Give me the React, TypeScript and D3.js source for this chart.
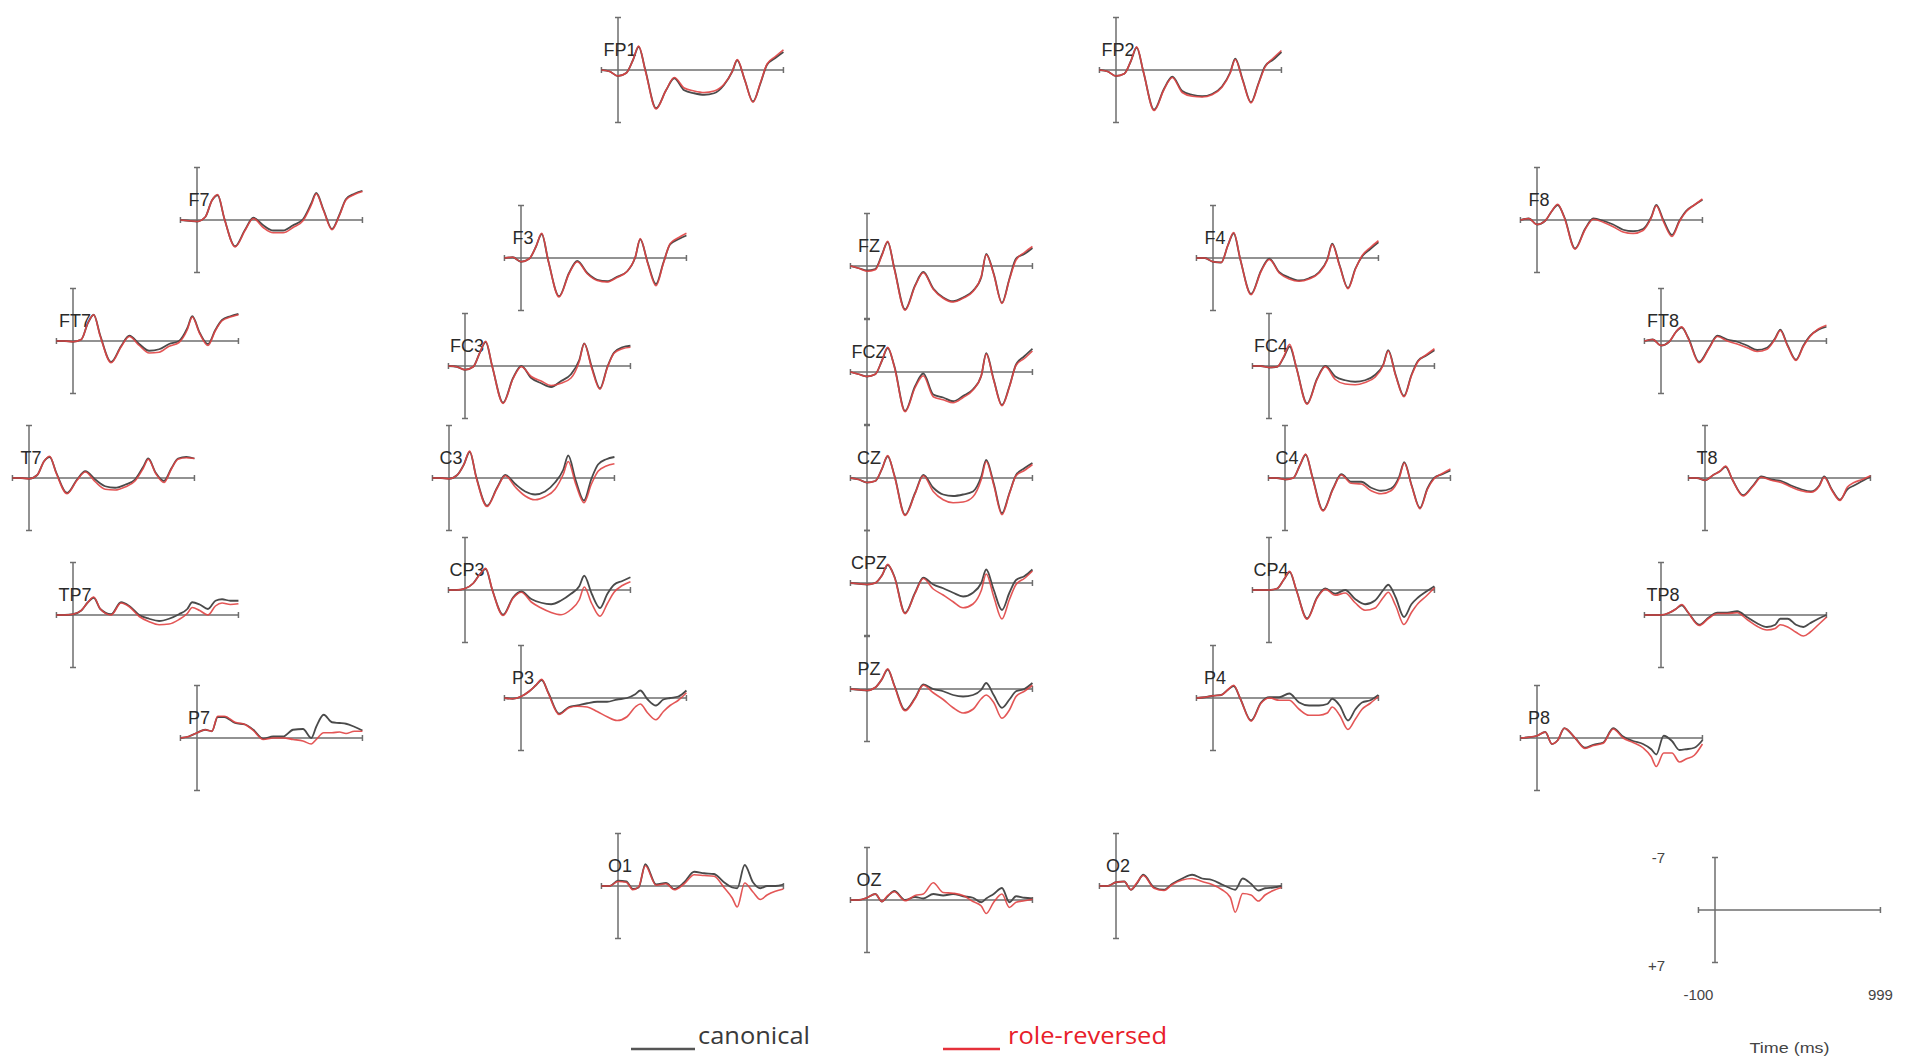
import React from "react";
import * as d3 from "d3";

// Sample times (ms)
const T = [-100, -50, 0, 50, 90, 125, 165, 230, 290, 340, 400, 460, 520, 580, 640, 690, 720, 765, 815, 860, 900, 950, 999];

// Amplitudes (µV) — canonical (can) and role-reversed (rr)
const FP1_can = [0, 0.2, 0.8, 0.4, -1.3, -3.1, 0, 5.1, 2.7, 1.1, 2.7, 3.1, 3.3, 3.1, 2.0, 0.2, -1.3, 1.3, 4.2, 1.8, -0.7, -1.6, -2.4];
const FP1_rr = [0, 0.2, 0.8, 0.4, -1.3, -3.2, 0.1, 5.2, 2.7, 1.0, 2.4, 2.8, 3.0, 2.8, 1.9, 0.2, -1.4, 1.3, 4.3, 1.7, -0.8, -1.8, -2.7];
const FP2_can = [0, 0.2, 0.8, 0.5, -1.2, -3.0, 0.2, 5.3, 2.5, 0.9, 2.8, 3.3, 3.5, 3.2, 2.2, 0.3, -1.5, 1.3, 4.3, 1.8, -0.5, -1.4, -2.4];
const FP2_rr = [0, 0.2, 0.8, 0.5, -1.2, -3.1, 0.2, 5.4, 2.6, 1.0, 3.0, 3.5, 3.6, 3.3, 2.3, 0.4, -1.4, 1.4, 4.4, 1.9, -0.4, -1.6, -2.6];
const F7_can = [0, 0.1, 0.2, -0.4, -2.6, -3.3, -0.2, 3.5, 1.3, -0.3, 0.7, 1.4, 1.4, 0.7, -0.1, -2.2, -3.6, -1.3, 1.2, -0.7, -2.8, -3.5, -3.9];
const F7_rr = [0, 0.1, 0.2, -0.4, -2.6, -3.4, -0.2, 3.6, 1.4, -0.2, 1.0, 1.7, 1.7, 1.0, 0.1, -2.0, -3.5, -1.2, 1.3, -0.6, -2.7, -3.4, -3.8];
const F3_can = [0, -0.1, 0.5, 0.1, -1.5, -3.2, 0.4, 5.1, 2.0, 0.4, 2.0, 2.9, 3.1, 2.5, 1.8, -0.1, -2.5, 0.6, 3.5, 0.6, -1.8, -2.5, -3.0];
const F3_rr = [0, -0.1, 0.5, 0.1, -1.5, -3.3, 0.4, 5.2, 2.1, 0.5, 2.1, 3.0, 3.2, 2.6, 1.8, -0.1, -2.6, 0.7, 3.7, 0.7, -1.9, -2.7, -3.3];
const FZ_can = [0, 0.3, 0.6, 0.4, -1.5, -3.2, 0.3, 5.8, 2.6, 0.8, 3.0, 4.2, 4.7, 4.2, 3.3, 1.5, -1.6, 1.0, 4.9, 1.7, -1.0, -1.6, -2.4];
const FZ_rr = [0, 0.3, 0.7, 0.5, -1.4, -3.3, 0.4, 5.9, 2.7, 0.9, 3.1, 4.3, 4.8, 4.3, 3.4, 1.4, -1.5, 1.1, 5.0, 1.8, -0.8, -1.8, -2.6];
const F4_can = [0, 0, 0.5, 0.6, -1.7, -3.3, 0.2, 4.8, 1.7, 0.1, 1.9, 2.6, 3.0, 2.7, 1.9, 0.2, -1.9, 1.0, 4.0, 1.4, -0.2, -1.2, -2.1];
const F4_rr = [0, 0, 0.5, 0.6, -1.7, -3.4, 0.2, 4.9, 1.8, 0.2, 2.0, 2.8, 3.1, 2.8, 2.0, 0.3, -1.8, 1.1, 4.1, 1.5, -0.3, -1.4, -2.3];
const F8_can = [0, -0.2, 0.6, 0.1, -1.2, -2.0, -0.4, 3.8, 1.2, -0.2, 0.1, 0.6, 1.3, 1.5, 1.2, -0.4, -2.0, 0.1, 2.0, 0.1, -1.2, -2.0, -2.7];
const F8_rr = [0, -0.2, 0.6, 0.1, -1.2, -2.1, -0.3, 3.9, 1.3, -0.1, 0.3, 0.9, 1.6, 1.8, 1.4, -0.3, -1.9, 0.3, 2.2, 0.2, -1.1, -2.0, -2.8];
const FT7_can = [0, 0, 0.1, -0.2, -2.4, -3.5, -0.7, 2.8, 0.7, -0.7, 0.4, 1.3, 1.1, 0.4, 0, -1.7, -3.3, -1.1, 0.4, -1.5, -2.8, -3.3, -3.6];
const FT7_rr = [0, 0, 0.1, -0.2, -2.4, -3.5, -0.6, 2.9, 0.8, -0.6, 0.6, 1.6, 1.5, 0.7, 0.2, -1.5, -3.2, -1.0, 0.6, -1.4, -2.7, -3.2, -3.5];
const FC3_can = [0, 0.1, 0.5, 0.1, -1.8, -3.2, 0.1, 4.9, 1.6, 0, 1.6, 2.3, 2.8, 2.0, 1.1, -0.8, -3.0, 0.1, 3.0, 0.1, -1.8, -2.5, -2.7];
const FC3_rr = [0, 0.1, 0.5, 0.1, -1.8, -3.3, 0.1, 5.0, 1.7, 0.1, 1.4, 2.0, 2.6, 2.3, 1.6, -0.6, -3.0, 0.3, 3.1, 0.2, -1.7, -2.3, -2.5];
const FCZ_can = [0, 0.3, 0.6, 0.3, -1.5, -3.2, -0.8, 5.2, 1.9, 0.2, 3.0, 3.4, 3.9, 3.2, 2.3, 0.5, -2.5, 1.0, 4.4, 1.9, -1.0, -2.1, -3.1];
const FCZ_rr = [0, 0.3, 0.6, 0.3, -1.5, -3.3, -0.7, 5.3, 2.1, 0.5, 3.3, 3.7, 4.1, 3.4, 2.4, 0.5, -2.4, 1.1, 4.5, 2.0, -0.9, -1.8, -2.8];
const FC4_can = [0, 0, 0.2, 0.1, -1.2, -2.6, 0.2, 5.0, 1.7, 0, 1.4, 1.9, 2.1, 1.9, 1.2, -0.2, -2.1, 1.2, 4.0, 1.2, -0.7, -1.4, -2.1];
const FC4_rr = [0, 0, 0.2, 0.1, -1.3, -2.9, 0.2, 5.1, 1.8, 0.1, 1.8, 2.4, 2.5, 2.2, 1.5, -0.1, -2.0, 1.3, 4.1, 1.3, -0.6, -1.5, -2.3];
const FT8_can = [0, -0.2, 0.6, 0.1, -1.2, -1.8, -0.4, 2.8, 0.9, -0.7, -0.2, 0.1, 0.6, 1.2, 0.9, -0.4, -1.5, 0.6, 2.5, 0.6, -0.7, -1.5, -1.9];
const FT8_rr = [0, -0.2, 0.6, 0.1, -1.2, -1.9, -0.3, 2.9, 1.0, -0.6, 0, 0.4, 0.9, 1.4, 1.1, -0.3, -1.4, 0.7, 2.6, 0.7, -0.6, -1.6, -2.1];
const T7_can = [0, 0, 0.1, -0.4, -2.2, -2.8, -0.7, 2.0, 0.2, -0.9, 0.2, 1.1, 1.3, 0.9, 0.2, -1.5, -2.6, -0.7, 0.4, -1.3, -2.6, -2.8, -2.6];
const T7_rr = [0, 0, 0.1, -0.4, -2.2, -2.9, -0.6, 2.1, 0.3, -0.8, 0.5, 1.5, 1.6, 1.2, 0.4, -1.3, -2.5, -0.6, 0.6, -1.2, -2.5, -2.7, -2.6];
const C3_can = [0, 0, 0.1, -0.4, -1.8, -3.5, -0.1, 3.7, 1.3, -0.4, 0.8, 1.8, 2.2, 1.8, 0.6, -1.1, -3.0, 0.3, 3.0, 0.1, -1.8, -2.5, -2.8];
const C3_rr = [0, 0, 0.1, -0.4, -1.8, -3.6, 0, 3.8, 1.4, -0.3, 1.2, 2.4, 2.9, 2.5, 1.5, -0.5, -2.2, 0.8, 3.3, 0.8, -0.9, -1.6, -1.9];
const CZ_can = [0, 0.2, 0.6, 0.4, -1.2, -2.9, -0.4, 4.9, 2.0, -0.4, 1.3, 2.2, 2.4, 2.2, 1.8, -0.2, -2.4, 0.7, 4.7, 2.0, -0.4, -1.3, -2.0];
const CZ_rr = [0, 0.2, 0.6, 0.4, -1.2, -3.0, -0.3, 5.0, 2.1, -0.3, 1.8, 2.9, 3.3, 3.2, 2.5, 0.2, -2.2, 0.9, 4.9, 2.1, -0.3, -1.0, -1.8];
const C4_can = [0, 0, 0.2, 0, -1.7, -3.1, -0.2, 4.3, 1.4, -0.5, 0.5, 0.5, 1.3, 1.7, 1.4, -0.2, -2.1, 1.0, 4.0, 1.4, 0, -0.5, -1.0];
const C4_rr = [0, 0, 0.2, 0, -1.7, -3.2, -0.1, 4.4, 1.5, -0.4, 0.7, 0.8, 1.7, 2.1, 1.7, 0, -2.0, 1.1, 4.1, 1.5, 0.1, -0.6, -1.2];
const T8_can = [0, 0, 0.3, -0.4, -0.9, -1.5, 0.2, 2.3, 1.0, -0.2, 0.2, 0.4, 1.0, 1.5, 1.8, 1.0, -0.2, 1.5, 2.9, 1.5, 1.0, 0.4, -0.2];
const T8_rr = [0, 0, 0.3, -0.4, -0.9, -1.6, 0.2, 2.4, 1.1, -0.1, 0.3, 0.6, 1.2, 1.7, 1.9, 1.1, -0.1, 1.6, 3.0, 1.2, 0.6, 0.2, -0.3];
const TP7_can = [0, 0, -0.1, -0.6, -1.7, -2.3, -0.8, -0.1, -1.7, -1.2, 0, 0.5, 0.8, 0.5, -0.1, -0.8, -1.7, -1.4, -0.8, -1.9, -2.1, -1.9, -1.9];
const TP7_rr = [0, 0, -0.1, -0.6, -1.7, -2.4, -0.8, 0, -1.6, -1.1, 0.2, 0.9, 1.3, 1.2, 0.6, -0.2, -1.0, -0.6, 0, -1.2, -1.6, -1.4, -1.5];
const CP3_can = [0, 0, -0.2, -0.9, -2.1, -2.8, 0, 3.3, 1.0, 0.2, 1.2, 1.7, 1.9, 1.4, 0.5, -0.5, -1.9, 0.5, 2.4, 0.5, -0.7, -1.2, -1.7];
const CP3_rr = [0, 0, -0.2, -0.9, -2.1, -2.9, 0, 3.4, 1.1, 0.3, 1.6, 2.4, 3.0, 3.3, 2.6, 1.3, -0.4, 1.8, 3.5, 1.8, 0.3, -0.6, -1.1];
const CPZ_can = [0, 0.1, 0.2, 0, -1.0, -2.4, -0.9, 4.0, 1.3, -0.7, 0.2, 0.7, 1.3, 1.8, 1.3, 0, -1.8, 0.9, 3.6, 1.3, -0.4, -0.9, -1.8];
const CPZ_rr = [0, 0.1, 0.2, 0, -1.0, -2.5, -0.8, 4.1, 1.4, -0.6, 0.8, 1.6, 2.5, 3.3, 2.8, 1.0, -1.2, 1.8, 4.8, 2.2, 0.2, -0.6, -1.6];
const CP4_can = [0, 0, 0, -0.2, -1.4, -2.4, 0, 3.8, 1.0, -0.2, 0.5, 0, 1.2, 1.9, 1.4, 0, -0.7, 1.0, 3.6, 1.9, 1.0, 0.2, -0.5];
const CP4_rr = [0, 0, 0, -0.2, -1.4, -2.5, 0, 3.9, 1.1, -0.1, 0.7, 0.4, 1.7, 2.7, 2.4, 1.0, 0.3, 2.1, 4.6, 3.0, 1.8, 0.8, -0.3];
const TP8_can = [0, 0, 0, -0.3, -0.8, -1.3, -0.3, 1.3, 0.3, -0.3, -0.3, -0.5, 0.3, 1.1, 1.6, 1.3, 0.5, 0.5, 1.3, 1.6, 1.1, 0.5, 0];
const TP8_rr = [0, 0, 0, -0.3, -0.8, -1.4, -0.3, 1.4, 0.4, -0.2, -0.2, -0.3, 0.6, 1.5, 2.0, 1.8, 1.3, 1.6, 2.3, 2.8, 2.3, 1.3, 0.3];
const P7_can = [0, -0.2, -0.7, -1.1, -0.9, -2.8, -2.8, -2.0, -1.8, -1.1, 0.1, -0.2, -0.2, -1.1, -1.2, 0, -1.5, -3.1, -2.1, -2.0, -1.9, -1.5, -1.0];
const P7_rr = [0, -0.2, -0.7, -1.1, -0.9, -2.9, -2.9, -2.1, -1.8, -1.0, 0.2, 0, 0, 0.2, 0.4, 0.8, 0.2, -0.7, -0.7, -0.8, -0.6, -0.9, -0.9];
const P3_can = [0, 0.1, -0.2, -0.9, -1.7, -2.4, -0.7, 2.1, 1.2, 1.0, 0.7, 0.5, 0.5, 0.2, 0, -0.5, -1.0, 0.2, 1.0, 0.2, 0, -0.2, -1.0];
const P3_rr = [0, 0.1, -0.2, -0.9, -1.7, -2.5, -0.6, 2.2, 1.3, 1.1, 1.2, 1.8, 2.5, 3.0, 2.5, 1.2, 0.8, 2.0, 2.9, 1.8, 1.0, 0.3, -0.7];
const PZ_can = [0, 0.1, 0.2, -0.2, -1.3, -2.6, -0.5, 2.8, 1.2, -0.6, 0, 0.3, 0.8, 1.0, 0.8, 0.1, -0.8, 0.8, 2.5, 1.4, 0.3, 0, -0.8];
const PZ_rr = [0, 0.1, 0.2, -0.2, -1.3, -2.7, -0.4, 2.9, 1.3, -0.5, 0.5, 1.4, 2.5, 3.2, 2.7, 1.3, 0.8, 1.8, 3.9, 2.8, 1.0, 0.3, -0.5];
const P4_can = [0, -0.1, -0.3, -0.4, -1.1, -1.6, 0.1, 3.0, 0.6, -0.1, -0.1, -0.6, 0.6, 1.0, 1.0, 0.8, 0.1, 1.0, 3.0, 1.5, 0.6, 0.3, -0.4];
const P4_rr = [0, -0.1, -0.3, -0.4, -1.1, -1.7, 0.1, 3.1, 0.7, 0, 0.3, 0.3, 1.5, 2.3, 2.3, 2.0, 1.2, 2.3, 4.2, 2.8, 1.5, 0.7, -0.2];
const P8_can = [0, -0.1, -0.3, -0.8, 0.8, 0.3, -1.3, 0, 1.3, 0.9, 0.6, -1.3, -0.2, 0.4, 0.8, 1.5, 2.2, -0.3, 0.4, 1.6, 1.5, 1.3, 0.3];
const P8_rr = [0, -0.1, -0.3, -0.8, 0.8, 0.3, -1.3, 0, 1.4, 1.0, 0.7, -1.2, 0, 0.6, 1.3, 2.5, 3.8, 2.0, 2.0, 3.2, 2.8, 2.3, 0.8];
const O1_can = [0, 0, -0.7, -0.6, 0.4, 0.2, -2.9, -0.2, -0.4, 0.4, -0.5, -1.9, -1.7, -1.6, -0.5, 0.2, 0.3, -2.8, -0.5, 0.3, 0, 0, -0.2];
const O1_rr = [0, 0, -0.6, -0.5, 0.5, 0.1, -2.7, -0.1, -0.3, 0.5, -0.3, -1.5, -1.4, -1.3, 0.2, 1.6, 2.8, -0.4, 0.8, 1.8, 1.2, 0.7, 0.4];
const OZ_can = [0, 0, -0.3, -0.8, 0.2, -0.5, -1.2, 0, -0.4, -0.2, -0.8, -0.6, -0.8, -0.5, -0.3, 0.3, -0.2, -0.8, -1.6, 0.3, -0.5, -0.3, -0.2];
const OZ_rr = [0, 0, -0.3, -0.8, 0.2, -0.6, -1.1, 0.1, -0.6, -0.8, -2.3, -1.0, -0.9, -0.6, 0.2, 0.8, 1.8, 0.3, -0.8, 1.0, 0.3, 0.1, -0.1];
const O2_can = [0, 0, -0.5, -0.6, 0.5, -0.3, -1.5, 0.2, 0.5, -0.3, -1.0, -1.5, -1.0, -0.8, -0.2, 0.3, 0.5, -1.0, -0.3, 0.6, 0.3, 0.2, 0];
const O2_rr = [0, 0, -0.5, -0.6, 0.5, -0.4, -1.4, 0.3, 0.6, -0.2, -0.8, -1.0, -0.6, -0.2, 0.5, 1.5, 3.5, 1.0, 1.2, 2.0, 1.2, 0.6, 0.2];

const SERIES: [string, number[], number[]][] = [
  ["FP1", FP1_can, FP1_rr], ["FP2", FP2_can, FP2_rr],
  ["F7", F7_can, F7_rr], ["F3", F3_can, F3_rr], ["FZ", FZ_can, FZ_rr], ["F4", F4_can, F4_rr], ["F8", F8_can, F8_rr],
  ["FT7", FT7_can, FT7_rr], ["FC3", FC3_can, FC3_rr], ["FCZ", FCZ_can, FCZ_rr], ["FC4", FC4_can, FC4_rr], ["FT8", FT8_can, FT8_rr],
  ["T7", T7_can, T7_rr], ["C3", C3_can, C3_rr], ["CZ", CZ_can, CZ_rr], ["C4", C4_can, C4_rr], ["T8", T8_can, T8_rr],
  ["TP7", TP7_can, TP7_rr], ["CP3", CP3_can, CP3_rr], ["CPZ", CPZ_can, CPZ_rr], ["CP4", CP4_can, CP4_rr], ["TP8", TP8_can, TP8_rr],
  ["P7", P7_can, P7_rr], ["P3", P3_can, P3_rr], ["PZ", PZ_can, PZ_rr], ["P4", P4_can, P4_rr], ["P8", P8_can, P8_rr],
  ["O1", O1_can, O1_rr], ["OZ", OZ_can, OZ_rr], ["O2", O2_can, O2_rr],
];

// Layout: [axis x (t=0), baseline y] in pixels
const LAYOUT: Record<string, [number, number]> = {
  FP1: [618, 70], FP2: [1116, 70],
  F7: [197, 220], F3: [521, 258], FZ: [867, 266], F4: [1213, 258], F8: [1537, 220],
  FT7: [73, 341], FC3: [465, 366], FCZ: [867, 372], FC4: [1269, 366], FT8: [1661, 341],
  T7: [29, 478], C3: [449, 478], CZ: [867, 478], C4: [1285, 478], T8: [1705, 478],
  TP7: [73, 615], CP3: [465, 590], CPZ: [867, 583], CP4: [1269, 590], TP8: [1661, 615],
  P7: [197, 738], P3: [521, 698], PZ: [867, 689], P4: [1213, 698], P8: [1537, 738],
  O1: [618, 886], OZ: [867, 900], O2: [1116, 886],
};
const SCALE_POS: [number, number] = [1715, 910];

const CAN_COLOR = "#4a4a4a";
const RR_COLOR = "#e04444";
const AXIS_COLOR = "#6e6e6e";

function Axes({ x, y }: { x: d3.ScaleLinear<number, number>; y: d3.ScaleLinear<number, number> }) {
  const x0 = x(-100), x1 = x(999), y0 = y(-7), y1 = y(7);
  const t = 3;
  return (
    <g stroke={AXIS_COLOR} strokeWidth={1.5} fill="none">
      <line x1={x0} x2={x1} y1={0} y2={0} />
      <line x1={0} x2={0} y1={y0} y2={y1} />
      <line x1={x0} x2={x0} y1={-t} y2={t} />
      <line x1={x1} x2={x1} y1={-t} y2={t} />
      <line x1={-t} x2={t} y1={y0} y2={y0} />
      <line x1={-t} x2={t} y1={y1} y2={y1} />
    </g>
  );
}

export default function App() {
  const x = d3.scaleLinear().domain([-100, 999]).range([-16.56, 165.44]);
  const y = d3.scaleLinear().domain([-7, 7]).range([-52.5, 52.5]);
  const line = d3
    .line<number>()
    .x((_, i) => x(T[i]))
    .y((d) => y(d))
    .curve(d3.curveMonotoneX);

  return (
    <svg
      width={1912}
      height={1062}
      style={{ position: "absolute", left: 0, top: 0, background: "#fff" }}
      fontFamily="'Liberation Sans', Arial, sans-serif"
    >
      <rect width={1912} height={1062} fill="#fff" />
      {SERIES.map(([name, can, rr]) => {
        const [ax, by] = LAYOUT[name];
        return (
          <g key={name} transform={`translate(${ax},${by})`}>
            <Axes x={x} y={y} />
            <text x={2} y={-14} fontSize={18} fill="#2a2a2a" textAnchor="middle">
              {name}
            </text>
            <path d={line(can) || ""} fill="none" stroke={CAN_COLOR} strokeWidth={1.8} strokeLinejoin="round" />
            <path d={line(rr) || ""} fill="none" stroke={RR_COLOR} strokeWidth={1.6} strokeLinejoin="round" strokeOpacity={0.9} />
          </g>
        );
      })}

      {/* scale panel */}
      <g transform={`translate(${SCALE_POS[0]},${SCALE_POS[1]})`}>
        <Axes x={x} y={y} />
        <g fontSize={15} fill="#444">
          <text x={-50} y={y(-7) + 5} textAnchor="end">-7</text>
          <text x={-50} y={y(7) + 8} textAnchor="end">+7</text>
          <text x={x(-100)} y={90} textAnchor="middle">-100</text>
          <text x={x(999)} y={90} textAnchor="middle">999</text>
          <text x={x(450)} y={143} textAnchor="middle" fontSize={15} textLength={80} lengthAdjust="spacingAndGlyphs">
            Time (ms)
          </text>
        </g>
      </g>

      {/* legend */}
      <g fontFamily="'Open Sans', 'Noto Sans', sans-serif">
        <line x1={631} x2={695} y1={1049} y2={1049} stroke="#555" strokeWidth={2.5} />
        <text x={698} y={1044} fontSize={24} fill="#3a3a3a" textLength={112} lengthAdjust="spacingAndGlyphs">
          canonical
        </text>
        <line x1={943} x2={1000} y1={1049} y2={1049} stroke="#e5303a" strokeWidth={2.5} />
        <text x={1008} y={1044} fontSize={24} fill="#e8202a" textLength={159} lengthAdjust="spacingAndGlyphs">
          role-reversed
        </text>
      </g>
    </svg>
  );
}
